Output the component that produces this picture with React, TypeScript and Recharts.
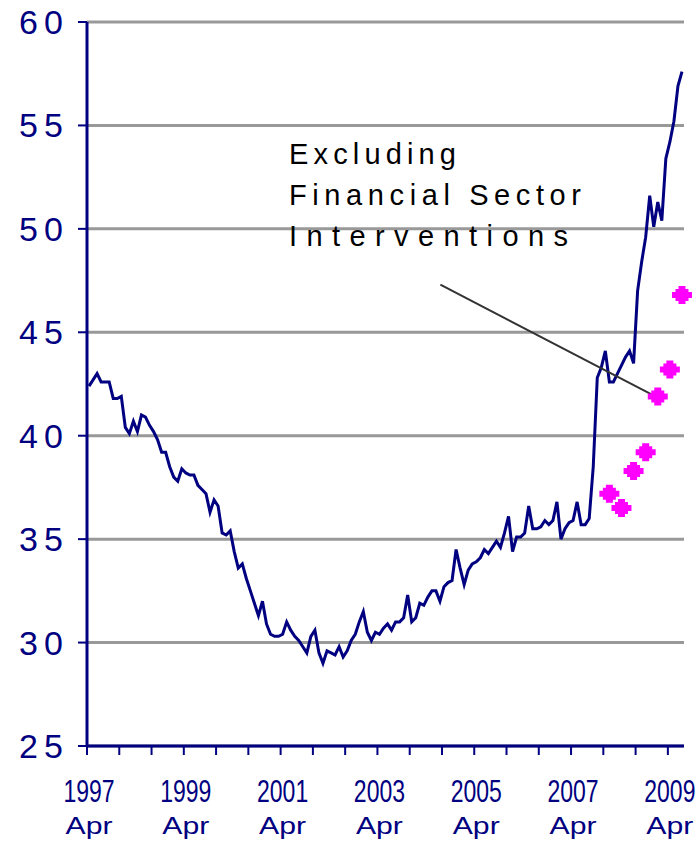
import React from "react";
import {
  ComposedChart, Line, Scatter, XAxis, YAxis, CartesianGrid,
  ReferenceLine, Customized,
} from "recharts";

const NAVY = "#000080";
const FONT = "'Liberation Sans', Arial, Helvetica, sans-serif";

// first month of the monthly series
const startYear = 1997;
const startMonth = 4;

// net debt, % of GDP, monthly from Apr 1997
const debtPct = [
  42.4, 42.7, 43.0, 42.6, 42.6, 42.6, 41.8, 41.8, 41.9, 40.4, 40.1, 40.7,
  40.2, 41.0, 40.9, 40.5, 40.2, 39.8, 39.2, 39.2, 38.5, 38.0, 37.8, 38.4,
  38.2, 38.1, 38.1, 37.6, 37.4, 37.2, 36.3, 36.9, 36.6, 35.3, 35.2, 35.4,
  34.4, 33.6, 33.8, 33.1, 32.5, 31.9, 31.3, 32.0, 30.9, 30.4, 30.3, 30.3,
  30.4, 31.0, 30.6, 30.3, 30.1, 29.8, 29.5, 30.3, 30.6, 29.5, 29.0, 29.6,
  29.5, 29.4, 29.8, 29.3, 29.6, 30.1, 30.4, 31.0, 31.5, 30.5, 30.1, 30.5,
  30.4, 30.7, 30.9, 30.6, 31.0, 31.0, 31.2, 32.3, 31.0, 31.2, 31.9, 31.8,
  32.2, 32.5, 32.5, 32.0, 32.7, 32.9, 33.0, 34.5, 33.6, 32.8, 33.5, 33.8,
  33.9, 34.1, 34.5, 34.3, 34.6, 34.9, 34.6, 35.3, 36.1, 34.4, 35.1, 35.1,
  35.3, 36.6, 35.5, 35.5, 35.6, 35.9, 35.7, 35.9, 36.8, 35.0, 35.5, 35.8,
  35.9, 36.8, 35.7, 35.7, 36.0, 38.5, 42.8, 43.3, 44.1, 42.6, 42.6, 43.0,
  43.4, 43.8, 44.1, 43.5, 47.0, 48.4, 49.6, 51.6, 50.1, 51.3, 50.4, 53.4,
  54.2, 55.2, 56.9, 57.6,
];

// excluding financial sector interventions (quarterly)
const exFinDates = ["2008-01", "2008-04", "2008-07", "2008-10", "2009-01", "2009-04", "2009-07"];
const exFinPct = [37.2, 36.5, 38.3, 39.2, 41.9, 43.2, 46.8];

const yTicks = [25, 30, 35, 40, 45, 50, 55, 60];
const xTickStep = 8; // months between tick marks
const xLabelStep = 24; // months between labels
const xTickYears = ["1997", "1999", "2001", "2003", "2005", "2007", "2009"];
const xTickMonthName = "Apr";

const noteLines = ["Excluding", "Financial Sector", "Interventions"];
// pointer from the note to the series (month index, %)
const noteFrom = { x: 87.6, y: 47.3 };
const noteTo = { x: 140.9, y: 41.9 };

function monthIndex(ym: string) {
  const [y, m] = ym.split("-").map(Number);
  return (y - startYear) * 12 + (m - startMonth);
}

const nMonths = debtPct.length;
// each month sits in the middle of its slot, like a category axis
const chartData = debtPct.map((v, i) => ({ x: i + 0.5, debt: v }));
const exFinData = exFinDates.map((d, i) => ({ x: monthIndex(d) + 0.5, exFin: exFinPct[i] }));
const xTicks = Array.from({ length: Math.floor((nMonths - 1) / xTickStep) + 1 }, (_, i) => i * xTickStep);

function XTick(props: any) {
  const { x, y, payload } = props;
  const v = payload.value as number;
  if (v % xLabelStep !== 0) return <g />;
  const year = xTickYears[v / xLabelStep];
  return (
    <g fill={NAVY} fontFamily={FONT}>
      {/* tall, narrow year digits */}
      <text transform={`translate(${x + 2},${y + 45}) scale(1,1.39)`} textAnchor="middle"
        fontSize={23}>{year}</text>
      <text x={x + 2} y={y + 77} textAnchor="middle" fontSize={23}
        textLength={47} lengthAdjust="spacingAndGlyphs">{xTickMonthName}</text>
    </g>
  );
}

function YTick(props: any) {
  const { x, y, payload } = props;
  return (
    <text x={x - 13} y={y + 12} textAnchor="end" fill={NAVY} fontFamily={FONT}
      fontSize={34} textLength={44} lengthAdjust="spacing">{payload.value}</text>
  );
}

function Blob(props: any) {
  const { cx, cy } = props;
  if (cx == null || cy == null) return <g />;
  const d = `M${cx - 3.5},${cy - 9} H${cx + 3.5} V${cy - 6} H${cx + 6.5} V${cy - 3} H${cx + 10} V${cy + 3}
    H${cx + 6.5} V${cy + 6} H${cx + 3.5} V${cy + 9} H${cx - 3.5} V${cy + 6} H${cx - 6.5} V${cy + 3}
    H${cx - 10} V${cy - 3} H${cx - 6.5} V${cy - 6} H${cx - 3.5} Z`;
  return <path d={d} fill="#FF00FF" />;
}

// note text is placed in chart pixels, next to the pointer
function Note() {
  const rows = [
    { y: 164, len: 167 },
    { y: 205, len: 292 },
    { y: 246, len: 279 },
  ];
  return (
    <g fontFamily={FONT} fontSize={29} fill="#000">
      {noteLines.map((t, i) => (
        <text key={t} x={289} y={rows[i].y} textLength={rows[i].len} lengthAdjust="spacing">{t}</text>
      ))}
    </g>
  );
}

export default function App() {
  return (
    <div style={{ position: "absolute", left: 0, top: 0, width: 698, height: 846, background: "#fff" }}>
      <ComposedChart width={698} height={846} data={chartData}
        margin={{ top: 22, right: 14, bottom: 0, left: 0 }}>
        <CartesianGrid vertical={false} stroke="#999999" strokeWidth={3} />
        <XAxis
          dataKey="x" type="number" domain={[0, nMonths]} ticks={xTicks} interval={0}
          height={100} tickSize={9}
          axisLine={{ stroke: NAVY, strokeWidth: 3 }}
          tickLine={{ stroke: NAVY, strokeWidth: 2 }}
          tick={<XTick />}
        />
        <YAxis
          type="number" domain={[25, 60]} ticks={yTicks} interval={0}
          width={87} tickSize={9}
          axisLine={{ stroke: NAVY, strokeWidth: 3 }}
          tickLine={{ stroke: NAVY, strokeWidth: 2 }}
          tick={<YTick />}
        />
        <Line dataKey="debt" type="linear" stroke={NAVY} strokeWidth={3}
          dot={false} activeDot={false} isAnimationActive={false} />
        <ReferenceLine segment={[noteFrom, noteTo]} stroke="#333333" strokeWidth={2} />
        <Scatter data={exFinData} dataKey="exFin" shape={<Blob />} isAnimationActive={false} />
        <Customized component={<Note />} />
      </ComposedChart>
    </div>
  );
}
